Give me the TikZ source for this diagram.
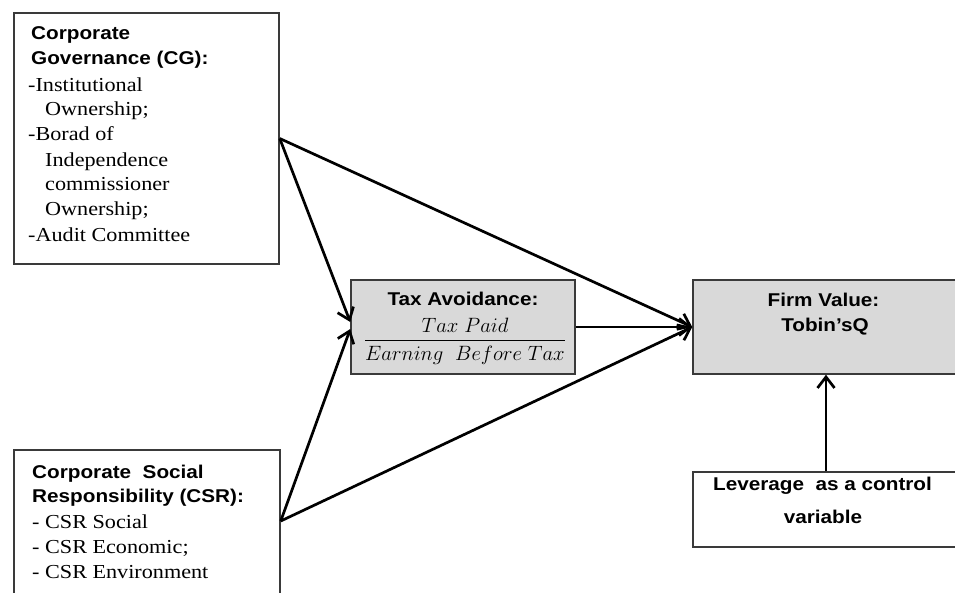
\documentclass[tikz,border=0pt]{standalone}
\usepackage{amsmath}
\usepackage{fontspec}
\usepackage{graphicx}
\setmainfont{Liberation Serif}[FakeStretch=1.12]
\setsansfont{Liberation Sans}[FakeStretch=1.12]
\usetikzlibrary{arrows.meta,calc}
\definecolor{boxgray}{HTML}{D9D9D9}
\definecolor{edgegray}{HTML}{3A3A3A}
\begin{document}
\begin{tikzpicture}[x=1pt,y=-1pt,
  box/.style={draw=edgegray,line width=1.5pt,inner sep=0pt,fill=white},
  shaded/.style={box,fill=boxgray},
  head/.style={inner sep=0pt,anchor=base west,font=\sffamily\bfseries\fontsize{18.5}{22}\selectfont},
  item/.style={inner sep=0pt,anchor=base west,font=\rmfamily\fontsize{19.8}{22}\selectfont},
  ctrhead/.style={inner sep=0pt,anchor=base,font=\sffamily\bfseries\fontsize{18.5}{22}\selectfont},
  link/.style={line width=2.7pt,-{Straight Barb[length=11pt,width=17pt]}}]
\useasboundingbox (0,0) rectangle (955,592);
\fill[white] (0,0) rectangle (955,592);

% boxes
\node[box,minimum width=265pt,minimum height=251pt] (cg) at (146.5,138.5) {};
\node[box,minimum width=266pt,minimum height=150pt] (csr) at (147,525) {};
\node[shaded,minimum width=224pt,minimum height=94pt] (tax) at (463,327) {};
\node[shaded,minimum width=266pt,minimum height=94pt] (firm) at (826,327) {};
\node[box,minimum width=266pt,minimum height=75pt] (lev) at (826,509.5) {};

% CG text
\node[head] (cg1) at (31,39) {Corporate};
\node[head] (cg2) at (31,64) {Governance (CG):};
\node[item] (cg3) at (28,91) {-Institutional};
\node[item] (cg4) at (45,115) {Ownership;};
\node[item] (cg5) at (28,140) {-Borad of};
\node[item] (cg6) at (45,166) {Independence};
\node[item] (cg7) at (45,190) {commissioner};
\node[item] (cg8) at (45,215) {Ownership;};
\node[item] (cg9) at (28,241) {-Audit Committee};

% CSR text
\node[head] (csr1) at (32,478) {Corporate\ \ Social};
\node[head] (csr2) at (32,502) {Responsibility (CSR):};
\node[item] (csr3) at (32,528) {- CSR Social};
\node[item] (csr4) at (32,553) {- CSR Economic;};
\node[item] (csr5) at (32,578) {- CSR Environment};

% Tax text
\node[ctrhead] (tax1) at (463,305) {Tax Avoidance:};
\node[inner sep=0pt] (tax2) at (465,341) {\fontsize{21}{24}\selectfont$\dfrac{\ Tax\ Paid\ }{Earning\ \ Before\ Tax}$};

% Firm text
\node[ctrhead] (firm1) at (823.5,306) {Firm Value:};
\node[ctrhead] (firm2) at (825,331) {Tobin’sQ};

% Leverage text
\node[ctrhead] (lev1) at (822.5,490) {Leverage\ \ as a control};
\node[ctrhead] (lev2) at (823,523) {variable};

% connectors
\coordinate (csrout) at ([yshift=4pt]csr.east);
\draw[link] (cg.east) -- ([yshift=5pt]tax.west);
\draw[link] (csrout) -- ([yshift=-2pt]tax.west);
\draw[link] (cg.east) -- (firm.west);
\draw[link] (csrout) -- (firm.west);
\draw[link] (tax.east) -- (firm.west);
\draw[link] (lev.north) -- (firm.south);
\end{tikzpicture}
\end{document}
